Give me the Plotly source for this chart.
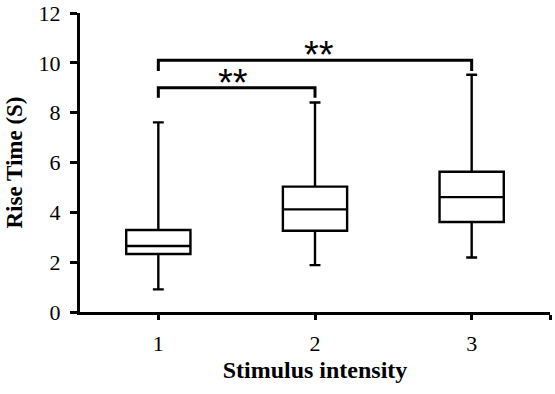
import plotly.graph_objects as go

categories = [1, 2, 3]
lower_whisker = [0.91, 1.88, 2.19]
q1_vals = [2.33, 3.26, 3.61]
median_vals = [2.65, 4.12, 4.61]
q3_vals = [3.29, 5.03, 5.63]
upper_whisker = [7.61, 8.41, 9.52]

y_ticks = [0, 2, 4, 6, 8, 10, 12]
x_title = "Stimulus intensity"
y_title = "Rise Time (S)"

# significance brackets: (from category, to category, bar height, leg bottom, label)
brackets = [
    (1, 2, 9.0, 8.6, "**"),
    (1, 3, 10.1, 9.67, "**"),
]
label_offsets = [(-0.023, 0.19), (0.025, 0.22)]

SERIF = "Liberation Serif, Times New Roman, serif"

fig = go.Figure()
fig.add_trace(go.Box(
    x=categories,
    q1=q1_vals,
    median=median_vals,
    q3=q3_vals,
    lowerfence=lower_whisker,
    upperfence=upper_whisker,
    width=0.41,
    whiskerwidth=0.17,
    line=dict(color="black", width=2.4),
    fillcolor="white",
    boxpoints=False,
    showlegend=False,
    hoverinfo="skip",
))

for (a, b, h, leg, lab), (dx, dy) in zip(brackets, label_offsets):
    fig.add_shape(type="path",
                  path=f"M {a},{leg} L {a},{h} L {b},{h} L {b},{leg}",
                  line=dict(color="black", width=3), xref="x", yref="y")
    fig.add_annotation(x=(a + b) / 2 + dx, y=h + dy, text=lab, showarrow=False,
                       yanchor="middle", xanchor="center",
                       font=dict(family="Liberation Sans, Arial, sans-serif", size=38, color="black"))

fig.update_layout(
    width=555, height=394,
    margin=dict(l=80, r=5, t=13, b=82),
    paper_bgcolor="white", plot_bgcolor="white",
    font=dict(family=SERIF, size=22, color="black"),
    showlegend=False,
)
fig.update_xaxes(
    range=[0.5, 3.5],
    tickvals=categories + [3.5],
    ticktext=[str(c) for c in categories] + [""],
    ticks="outside", ticklen=5, tickwidth=3, tickcolor="black",
    showline=True, linewidth=3, linecolor="black",
    showgrid=False, zeroline=False, automargin=False,
    ticklabelstandoff=5,
    tickfont=dict(family=SERIF, size=22),
    title=dict(text=f"<b>{x_title}</b>", font=dict(family=SERIF, size=24), standoff=6),
)
fig.update_yaxes(
    range=[0, 12],
    tickvals=y_ticks,
    ticks="outside", ticklen=7, tickwidth=3, tickcolor="black",
    showline=True, linewidth=3, linecolor="black",
    showgrid=False, zeroline=False, automargin=False,
    ticklabelstandoff=5, ticklabeloverflow="allow",
    tickfont=dict(family=SERIF, size=22),
    title=dict(text=f"<b>{y_title}</b>", font=dict(family=SERIF, size=23), standoff=10),
)

fig.write_html("out.html", config={"displayModeBar": False},
               post_script="document.body.style.margin='0';")
